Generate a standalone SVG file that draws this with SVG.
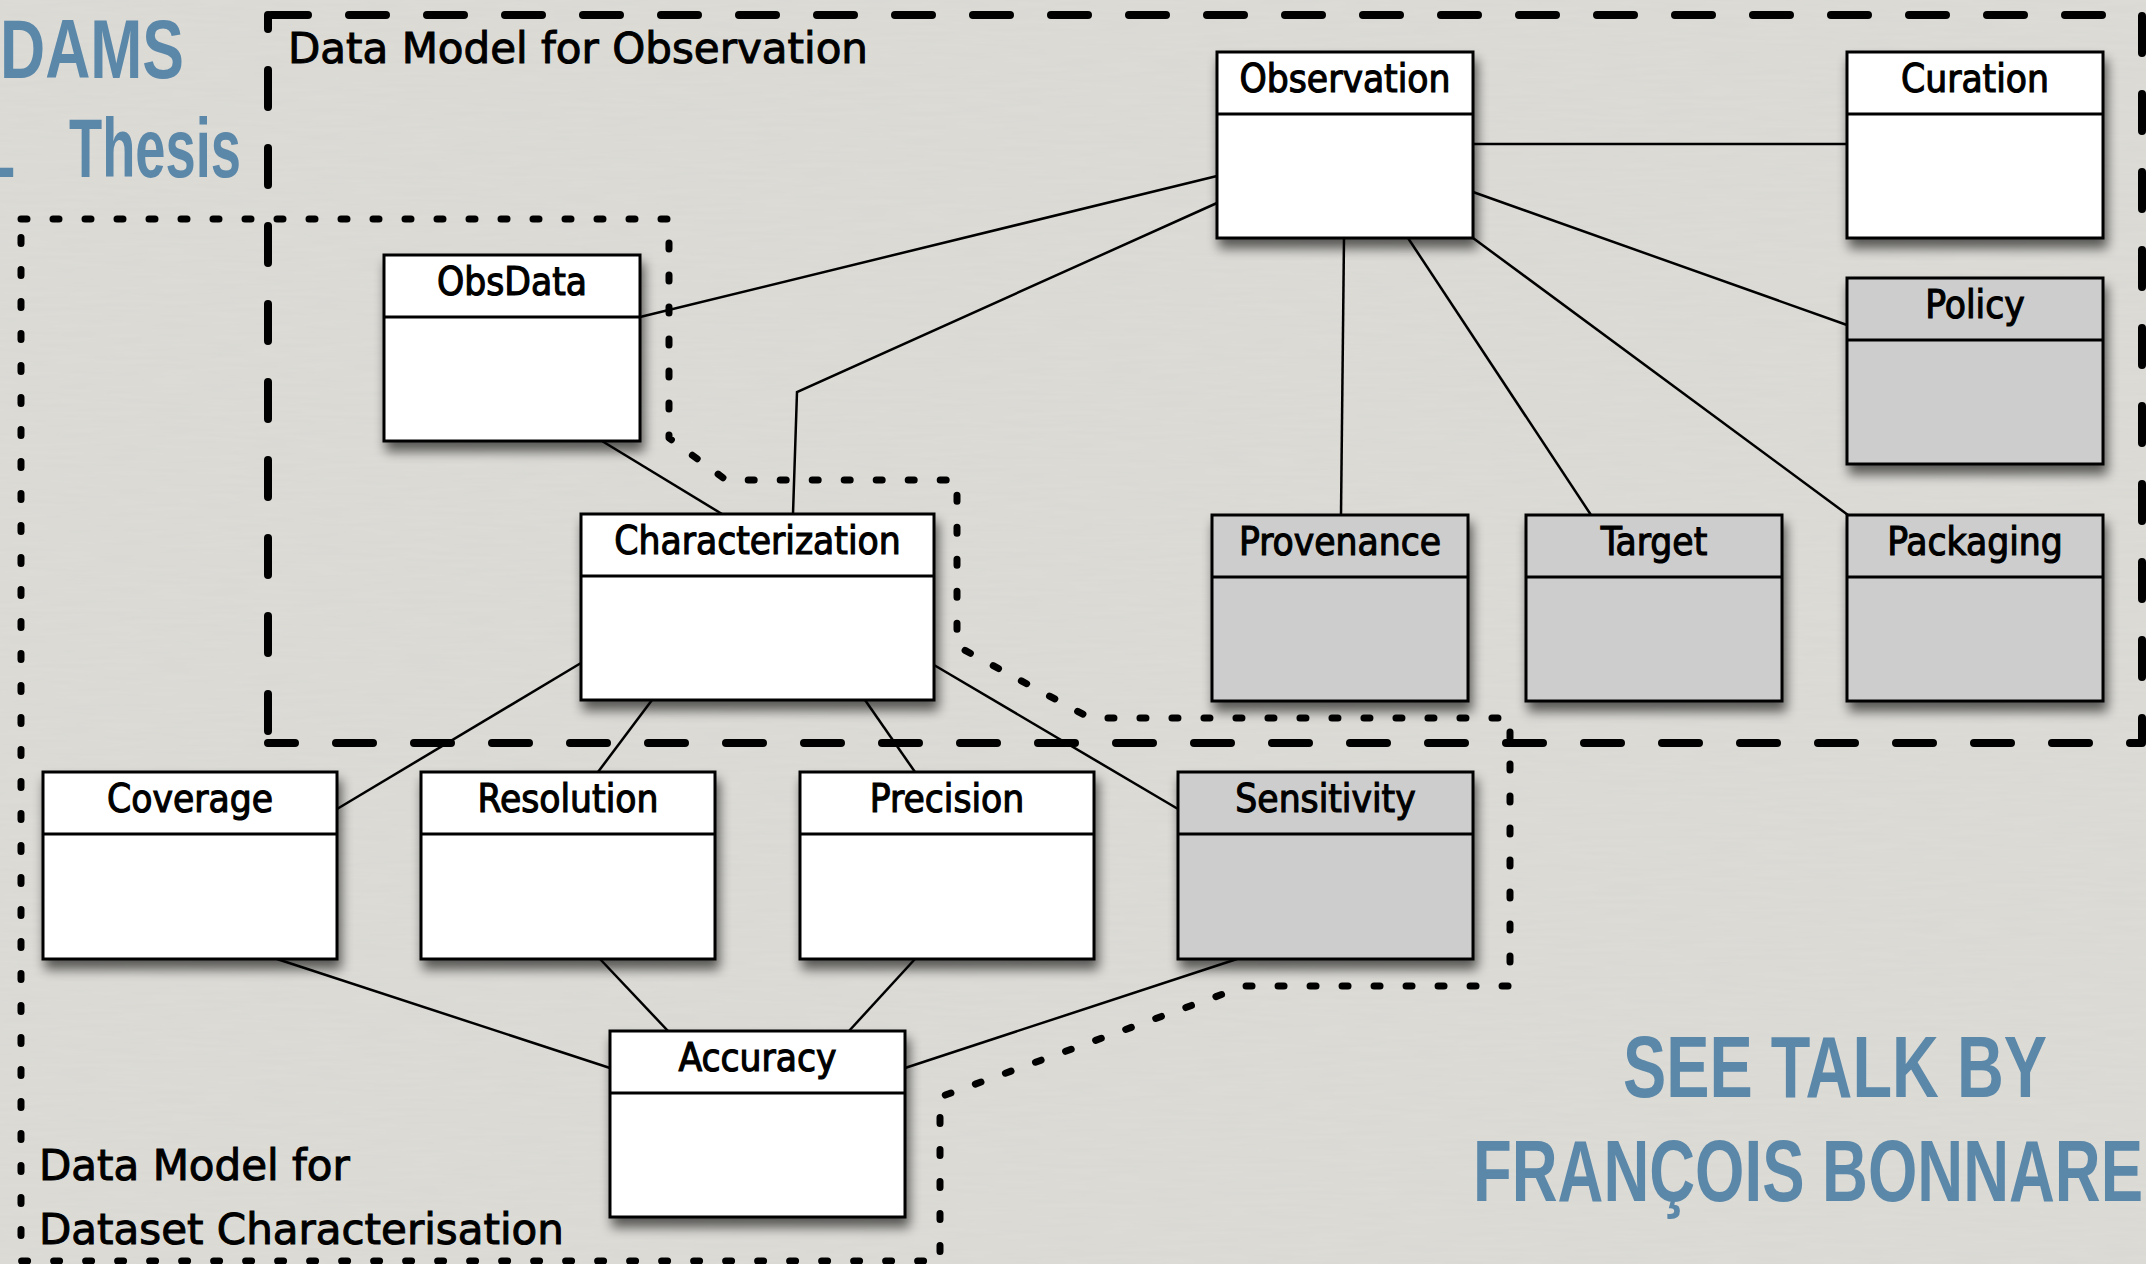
<svg xmlns="http://www.w3.org/2000/svg" width="2146" height="1264" viewBox="0 0 2146 1264">
<defs>
  <filter id="sh" x="-10%" y="-10%" width="130%" height="140%">
    <feGaussianBlur in="SourceAlpha" stdDeviation="6"/>
    <feOffset dx="3" dy="9" result="b"/>
    <feComponentTransfer><feFuncA type="linear" slope="0.6"/></feComponentTransfer>
    <feMerge><feMergeNode/><feMergeNode in="SourceGraphic"/></feMerge>
  </filter>
  <filter id="paper" x="0" y="0" width="100%" height="100%">
    <feTurbulence type="fractalNoise" baseFrequency="0.02 0.25" numOctaves="3" seed="4"/>
    <feColorMatrix type="matrix" values="0 0 0 0 0.5  0 0 0 0 0.5  0 0 0 0 0.48  0 0 0 0.12 0"/>
  </filter>
  <style>
    .box{fill:#fff;stroke:#000;stroke-width:3;filter:url(#sh)}
    .gray .box{fill:#cdcdcd}
    .div{stroke:#000;stroke-width:3}
    .lbl{font-family:'DejaVu Sans Condensed','DejaVu Sans',sans-serif;font-stretch:condensed;font-size:38.5px;text-anchor:middle;fill:#000;stroke:#000;stroke-width:1.1px}
    .conn line,.conn polyline{stroke:#000;stroke-width:2.5;fill:none}
    .region{font-family:'DejaVu Sans',sans-serif;font-size:42px;fill:#000;stroke:#000;stroke-width:1px}
    .blue{font-family:'Liberation Sans Narrow','Liberation Sans',sans-serif;font-weight:bold;fill:#5b88a9}
    .dash{fill:none;stroke:#000;stroke-width:8;stroke-linecap:round;stroke-linejoin:round;stroke-dasharray:37 41}
    .dot{fill:none;stroke:#000;stroke-width:7;stroke-linecap:round;stroke-linejoin:round;stroke-dasharray:6 26}
  </style>
</defs>
<rect width="2146" height="1264" fill="#dddcd7"/>
<rect width="2146" height="1264" filter="url(#paper)"/>

<g id="titles">
  <text class="blue" x="0" y="78" font-size="84" textLength="184" lengthAdjust="spacingAndGlyphs">DAMS</text>
  <text class="blue" y="177" font-size="84"><tspan x="-24" textLength="38" lengthAdjust="spacingAndGlyphs">L</tspan> <tspan x="69" textLength="172" lengthAdjust="spacingAndGlyphs">Thesis</tspan></text>
  <text class="blue" x="1835" y="1097" font-size="87" text-anchor="middle" textLength="424" lengthAdjust="spacingAndGlyphs">SEE TALK BY</text>
  <text class="blue" x="1473" y="1201" font-size="87" textLength="670" lengthAdjust="spacingAndGlyphs">FRANÇOIS BONNARE</text>
</g>

<g id="regions">
  <g id="region-observation">
    <path class="dash" d="M268 15 H2142 V743 H268" stroke-dashoffset="-3"/>
    <path class="dash" d="M268 15 V743" stroke-dashoffset="23"/>
    <text class="region" x="288" y="63">Data Model for Observation</text>
  </g>
  <g id="region-characterisation">
    <path class="dot" d="M21 219 H669 V438 L726 480 H957 V646 L1090 718 H1510 V986 H1245 L940 1097 V1261 H21 Z"/>
    <text class="region" x="39" y="1180">Data Model for</text>
    <text class="region" x="39" y="1244">Dataset Characterisation</text>
  </g>
</g>

<g id="connectors" class="conn">
  <line x1="1473" y1="144" x2="1847" y2="144"/>
  <line x1="640" y1="317" x2="1217" y2="176"/>
  <polyline points="793,514 797,392 1217,203"/>
  <line x1="602" y1="441" x2="722" y2="514"/>
  <line x1="1344" y1="238" x2="1341" y2="515"/>
  <line x1="1408" y1="238" x2="1591" y2="515"/>
  <line x1="1473" y1="238" x2="1848" y2="515"/>
  <line x1="1473" y1="192" x2="1847" y2="325"/>
  <line x1="581" y1="663" x2="337" y2="809"/>
  <line x1="652" y1="700" x2="598" y2="772"/>
  <line x1="865" y1="700" x2="915" y2="772"/>
  <line x1="934" y1="665" x2="1178" y2="809"/>
  <line x1="277" y1="959" x2="610" y2="1068"/>
  <line x1="600" y1="959" x2="668" y2="1031"/>
  <line x1="915" y1="959" x2="849" y2="1031"/>
  <line x1="1237" y1="959" x2="905" y2="1068"/>
</g>

<g id="nodes">
  <g id="observation">
    <rect class="box" x="1217" y="52" width="256" height="186"/>
    <line class="div" x1="1217" y1="114" x2="1473" y2="114"/>
    <text class="lbl" x="1345" y="92">Observation</text>
  </g>
  <g id="curation">
    <rect class="box" x="1847" y="52" width="256" height="186"/>
    <line class="div" x1="1847" y1="114" x2="2103" y2="114"/>
    <text class="lbl" x="1975" y="92">Curation</text>
  </g>
  <g id="policy" class="gray">
    <rect class="box" x="1847" y="278" width="256" height="186"/>
    <line class="div" x1="1847" y1="340" x2="2103" y2="340"/>
    <text class="lbl" x="1975" y="318">Policy</text>
  </g>
  <g id="provenance" class="gray">
    <rect class="box" x="1212" y="515" width="256" height="186"/>
    <line class="div" x1="1212" y1="577" x2="1468" y2="577"/>
    <text class="lbl" x="1340" y="555">Provenance</text>
  </g>
  <g id="target" class="gray">
    <rect class="box" x="1526" y="515" width="256" height="186"/>
    <line class="div" x1="1526" y1="577" x2="1782" y2="577"/>
    <text class="lbl" x="1654" y="555">Target</text>
  </g>
  <g id="packaging" class="gray">
    <rect class="box" x="1847" y="515" width="256" height="186"/>
    <line class="div" x1="1847" y1="577" x2="2103" y2="577"/>
    <text class="lbl" x="1975" y="555">Packaging</text>
  </g>
  <g id="obsdata">
    <rect class="box" x="384" y="255" width="256" height="186"/>
    <line class="div" x1="384" y1="317" x2="640" y2="317"/>
    <text class="lbl" x="512" y="295">ObsData</text>
  </g>
  <g id="characterization">
    <rect class="box" x="581" y="514" width="353" height="186"/>
    <line class="div" x1="581" y1="576" x2="934" y2="576"/>
    <text class="lbl" x="757.5" y="554">Characterization</text>
  </g>
  <g id="coverage">
    <rect class="box" x="43" y="772" width="294" height="187"/>
    <line class="div" x1="43" y1="834" x2="337" y2="834"/>
    <text class="lbl" x="190" y="812">Coverage</text>
  </g>
  <g id="resolution">
    <rect class="box" x="421" y="772" width="294" height="187"/>
    <line class="div" x1="421" y1="834" x2="715" y2="834"/>
    <text class="lbl" x="568" y="812">Resolution</text>
  </g>
  <g id="precision">
    <rect class="box" x="800" y="772" width="294" height="187"/>
    <line class="div" x1="800" y1="834" x2="1094" y2="834"/>
    <text class="lbl" x="947" y="812">Precision</text>
  </g>
  <g id="sensitivity" class="gray">
    <rect class="box" x="1178" y="772" width="295" height="187"/>
    <line class="div" x1="1178" y1="834" x2="1473" y2="834"/>
    <text class="lbl" x="1325.5" y="812">Sensitivity</text>
  </g>
  <g id="accuracy">
    <rect class="box" x="610" y="1031" width="295" height="186"/>
    <line class="div" x1="610" y1="1093" x2="905" y2="1093"/>
    <text class="lbl" x="757.5" y="1071">Accuracy</text>
  </g>
</g>
</svg>
